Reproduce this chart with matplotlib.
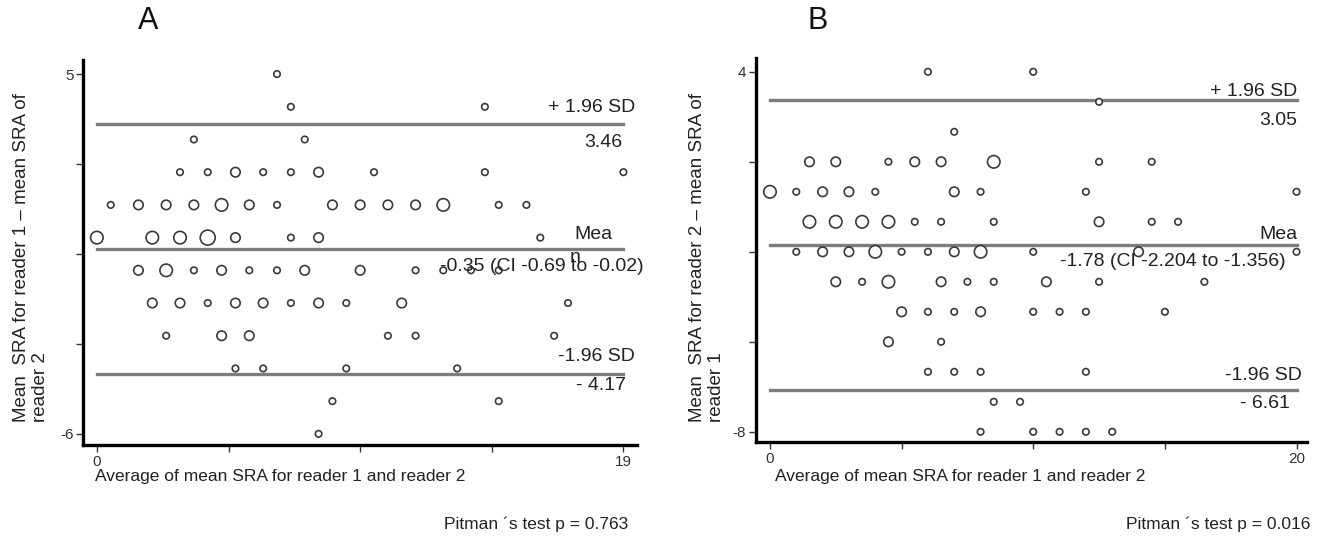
import numpy as np
import matplotlib
matplotlib.use("Agg")
import matplotlib.pyplot as plt

plt.rcParams['font.family'] = ['Liberation Sans', 'DejaVu Sans']

# Panel A: difference reader 1 - reader 2 vs. average (n = relative count of overlapping cases)
a_x = [6.5,
       7, 14,
       3.5, 7.5,
       3, 4, 5, 6, 7, 8, 10, 14, 19,
       0.5, 1.5, 2.5, 3.5, 4.5, 5.5, 6.5, 8.5, 9.5, 10.5, 11.5, 12.5, 14.5, 15.5,
       0, 2, 3, 4, 5, 7, 8, 16,
       1.5, 2.5, 3.5, 4.5, 5.5, 6.5, 7.5, 9.5, 11.5, 12.5, 13.5, 14.5,
       2, 3, 4, 5, 6, 7, 8, 9, 11, 17,
       2.5, 4.5, 5.5, 10.5, 11.5, 16.5,
       5, 6, 9, 13,
       8.5, 14.5,
       8]
a_y = [5,
       4, 4,
       3, 3,
       2, 2, 2, 2, 2, 2, 2, 2, 2,
       1, 1, 1, 1, 1, 1, 1, 1, 1, 1, 1, 1, 1, 1,
       0, 0, 0, 0, 0, 0, 0, 0,
       -1, -1, -1, -1, -1, -1, -1, -1, -1, -1, -1, -1,
       -2, -2, -2, -2, -2, -2, -2, -2, -2, -2,
       -3, -3, -3, -3, -3, -3,
       -4, -4, -4, -4,
       -5, -5,
       -6]
a_n = [1,
       1, 1,
       1, 1,
       1, 1, 2, 1, 1, 2, 1, 1, 1,
       1, 2, 2, 2, 3, 2, 1, 2, 2, 2, 2, 3, 1, 1,
       3, 3, 3, 4, 2, 1, 2, 1,
       2, 3, 1, 2, 1, 1, 2, 2, 1, 1, 1, 1,
       2, 2, 1, 2, 2, 1, 2, 1, 2, 1,
       1, 2, 2, 1, 1, 1,
       1, 1, 1, 1,
       1, 1,
       1]

# Panel B: difference reader 2 - reader 1 vs. average
b_x = [6, 10,
       12.5,
       7,
       1.5, 2.5, 4.5, 5.5, 6.5, 8.5, 12.5, 14.5,
       0, 1, 2, 3, 4, 7, 8, 12, 20,
       1.5, 2.5, 3.5, 4.5, 5.5, 6.5, 8.5, 12.5, 14.5, 15.5,
       1, 2, 3, 4, 5, 6, 7, 8, 10, 14, 20,
       2.5, 3.5, 4.5, 6.5, 7.5, 8.5, 10.5, 12.5, 16.5,
       5, 6, 7, 8, 10, 11, 12, 15,
       4.5, 6.5,
       6, 7, 8, 12,
       8.5, 9.5,
       8, 10, 11, 12, 13]
b_y = [4, 4,
       3,
       2,
       1, 1, 1, 1, 1, 1, 1, 1,
       0, 0, 0, 0, 0, 0, 0, 0, 0,
       -1, -1, -1, -1, -1, -1, -1, -1, -1, -1,
       -2, -2, -2, -2, -2, -2, -2, -2, -2, -2, -2,
       -3, -3, -3, -3, -3, -3, -3, -3, -3,
       -4, -4, -4, -4, -4, -4, -4, -4,
       -5, -5,
       -6, -6, -6, -6,
       -7, -7,
       -8, -8, -8, -8, -8]
b_n = [1, 1,
       1,
       1,
       2, 2, 1, 2, 2, 3, 1, 1,
       3, 1, 2, 2, 1, 2, 1, 1, 1,
       3, 3, 3, 3, 1, 1, 1, 2, 1, 1,
       1, 2, 2, 3, 1, 1, 2, 3, 1, 2, 1,
       2, 1, 3, 2, 1, 1, 2, 1, 1,
       2, 1, 1, 2, 1, 1, 1, 1,
       2, 1,
       1, 1, 1, 1,
       1, 1,
       1, 1, 1, 1, 1]

a_limits = [3.46, -0.35, -4.17]
b_limits = [3.05, -1.78, -6.61]

diam_px = {1: 6.5, 2: 9.5, 3: 12.5, 4: 15.0}


def sizes(n):
    return [(diam_px[k] * 0.72) ** 2 for k in n]


fig = plt.figure(figsize=(13.18, 5.43), dpi=100)
axA = fig.add_axes([0.0632, 0.1805, 0.4199, 0.709])
axB = fig.add_axes([0.5736, 0.1860, 0.4181, 0.7072])


def style(ax, xlim, ylim, xticks, xlabels, yticks, ylabels):
    ax.set_xlim(*xlim)
    ax.set_ylim(*ylim)
    for s in ['top', 'right']:
        ax.spines[s].set_visible(False)
    for s in ['left', 'bottom']:
        ax.spines[s].set_linewidth(2.4)
        ax.spines[s].set_color('black')
    ax.set_xticks(xticks, xlabels)
    ax.set_yticks(yticks, ylabels)
    ax.tick_params(length=5, width=1, color='#333333', labelsize=11,
                   labelcolor='#333333', pad=2)


def draw(ax, x, y, n, limits, x0, x1):
    for v in limits:
        ax.plot([x0, x1], [v, v], color='#7d7d7d', lw=2.4, zorder=1)
    ax.scatter(x, y, s=sizes(n), facecolors='white', edgecolors='#3a3a3a',
               linewidths=1.2, zorder=3)


# ---- Panel A
draw(axA, a_x, a_y, a_n, a_limits, 0, 19)
style(axA, (-0.49, 19.48), (-6.34, 5.43),
      [0, 4.75, 9.5, 14.25, 19], ['0', '', '', '', '19'],
      [5, 2.25, -0.5, -3.25, -6], ['5', '', '', '', '-6'])
tk = dict(fontsize=14, color='#222222', zorder=4, clip_on=False)
axA.text(19.42, 3.99, '+ 1.96 SD', ha='right', va='center', **tk)
axA.text(18.95, 2.92, '3.46', ha='right', va='center', **tk)
axA.text(18.6, 0.08, 'Mea', ha='right', va='center', **tk)
axA.text(17.26, -0.6, 'n', ha='center', va='center', **tk)
axA.text(12.38, -0.87, '-0.35 (CI -0.69 to -0.02)', ha='left', va='center', **tk)
axA.text(19.42, -3.64, '-1.96 SD', ha='right', va='center', **tk)
axA.text(19.1, -4.51, '- 4.17', ha='right', va='center', **tk)

# ---- Panel B
draw(axB, b_x, b_y, b_n, b_limits, 0, 20)
style(axB, (-0.53, 20.4), (-8.34, 4.46),
      [0, 5, 10, 15, 20], ['0', '', '', '', '20'],
      [4, 1, -2, -5, -8], ['4', '', '', '', '-8'])
axB.text(20.02, 3.33, '+ 1.96 SD', ha='right', va='center', **tk)
axB.text(20.02, 2.36, '3.05', ha='right', va='center', **tk)
axB.text(20.05, -1.44, 'Mea', ha='right', va='center', **tk)
axB.text(11.01, -2.33, '-1.78 (CI -2.204 to -1.356)', ha='left', va='center', **tk)
axB.text(20.2, -6.11, '-1.96 SD', ha='right', va='center', **tk)
axB.text(19.75, -7.05, '- 6.61', ha='right', va='center', **tk)

# ---- figure texts
W, H = 1318.0, 543.0
lab = dict(fontsize=12.5, color='#222222')
fig.text(148 / W, 1 - 21 / H, 'A', fontsize=22, ha='center', va='center', color='#111111')
fig.text(818 / W, 1 - 21 / H, 'B', fontsize=22, ha='center', va='center', color='#111111')
fig.text(280 / W, 1 - 477 / H, 'Average of mean SRA for reader 1 and reader 2',
         ha='center', va='center', **lab)
fig.text(960 / W, 1 - 477 / H, 'Average of mean SRA for reader 1 and reader 2',
         ha='center', va='center', **lab)
fig.text(31 / W, 1 - 422 / H, 'Mean  SRA for reader 1 \u2013 mean SRA of\nreader 2',
         rotation=90, ha='center', va='bottom', multialignment='left',
         linespacing=1.15, fontsize=13.5, color='#222222')
fig.text(707 / W, 1 - 422 / H, 'Mean  SRA for reader 2 \u2013 mean SRA of\nreader 1',
         rotation=90, ha='center', va='bottom', multialignment='left',
         linespacing=1.15, fontsize=13.5, color='#222222')
fig.text(628 / W, 1 - 524 / H, 'Pitman \u00b4s test p = 0.763',
         ha='right', va='center', **lab)
fig.text(1310 / W, 1 - 524 / H, 'Pitman \u00b4s test p = 0.016',
         ha='right', va='center', **lab)

fig.savefig('out.png', dpi=100, facecolor='white')
